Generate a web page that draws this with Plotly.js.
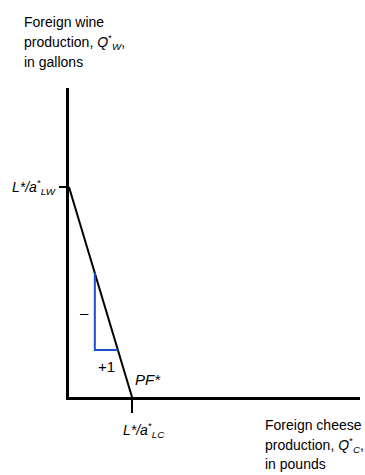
<!DOCTYPE html>
<html>
<head>
<meta charset="utf-8">
<script src="https://cdn.plot.ly/plotly-3.0.1.min.js"></script>
<style>html,body{margin:0;padding:0;background:#fff;}#chart{width:365px;height:475px;}</style>
</head>
<body>
<div id="chart"></div>
<script>
// Foreign PPF: intercepts L*/a*_LC (cheese) and L*/a*_LW (wine)
const ppfCheese = [0, 1];
const ppfWine = [1, 0];
// slope triangle (run +1, rise -)
const triCheese = [0.41, 0.41, 0.78];
const triWine = [0.59, 0.224, 0.224];
const tickCheese = [1];
const tickWine = [1];
const wineTitle = ['Foreign wine', 'production, <i>Q</i><sup>*</sup><sub><i>W</i></sub>,', 'in gallons'];
const cheeseTitle = ['Foreign cheese', 'production, <i>Q</i><sup>*</sup><sub><i>C</i></sub>,', 'in pounds'];

const FONT = "'Liberation Sans', Arial, Helvetica, sans-serif";

const traces = [
  {x: ppfCheese, y: ppfWine, mode: 'lines', line: {color: '#000', width: 2}, hoverinfo: 'skip', showlegend: false, cliponaxis: false},
  {x: triCheese, y: triWine, mode: 'lines', line: {color: '#1f4fc4', width: 2}, hoverinfo: 'skip', showlegend: false}
];

const annotations = [
  {x: 0, y: tickWine[0], xanchor: 'right', yanchor: 'middle', xshift: -10, showarrow: false,
   text: '<i>L*/a</i><sup>*</sup><sub><i>LW</i></sub>'},
  {x: tickCheese[0], y: 0, xanchor: 'center', yanchor: 'top', yshift: -21, xshift: 12, showarrow: false,
   text: '<i>L*/a</i><sup>*</sup><sub><i>LC</i></sub>'},
  {x: 0.24, y: 0.40, showarrow: false, text: '–', font: {size: 15}},
  {x: 0.59, y: 0.143, showarrow: false, text: '+1', font: {size: 15}},
  {x: 1.26, y: 0.081, showarrow: false, text: '<i>PF*</i>', font: {size: 15}}
];
const wineY = [1.2136, 1.1489, 1.0841];
const cheeseY = [-0.0906, -0.1553, -0.2168];
wineTitle.forEach((t, i) => annotations.push({xref: 'paper', yref: 'paper', x: -0.1615, y: wineY[i],
  xanchor: 'left', yanchor: 'middle', showarrow: false, text: t}));
cheeseTitle.forEach((t, i) => annotations.push({xref: 'paper', yref: 'paper', x: 0.667, y: cheeseY[i],
  xanchor: 'left', yanchor: 'middle', showarrow: false, text: t}));

const layout = {
  width: 365, height: 475, autosize: false,
  margin: {l: 69, r: 5, t: 88, b: 78},
  paper_bgcolor: '#fff', plot_bgcolor: '#fff',
  font: {family: FONT, size: 14, color: '#000'},
  xaxis: {range: [0, 4.62], showgrid: false, zeroline: false, showline: true, linecolor: '#000', linewidth: 3,
          tickvals: tickCheese, ticks: 'outside', ticklen: 13, tickwidth: 1.5, tickcolor: '#000', showticklabels: false, fixedrange: true},
  yaxis: {range: [0, 1.471], showgrid: false, zeroline: false, showline: true, linecolor: '#000', linewidth: 3,
          tickvals: tickWine, ticks: 'outside', ticklen: 7, tickwidth: 1.5, tickcolor: '#000', showticklabels: false, fixedrange: true},
  annotations: annotations
};

Plotly.newPlot('chart', traces, layout, {displayModeBar: false, staticPlot: true});
</script>
</body>
</html>
